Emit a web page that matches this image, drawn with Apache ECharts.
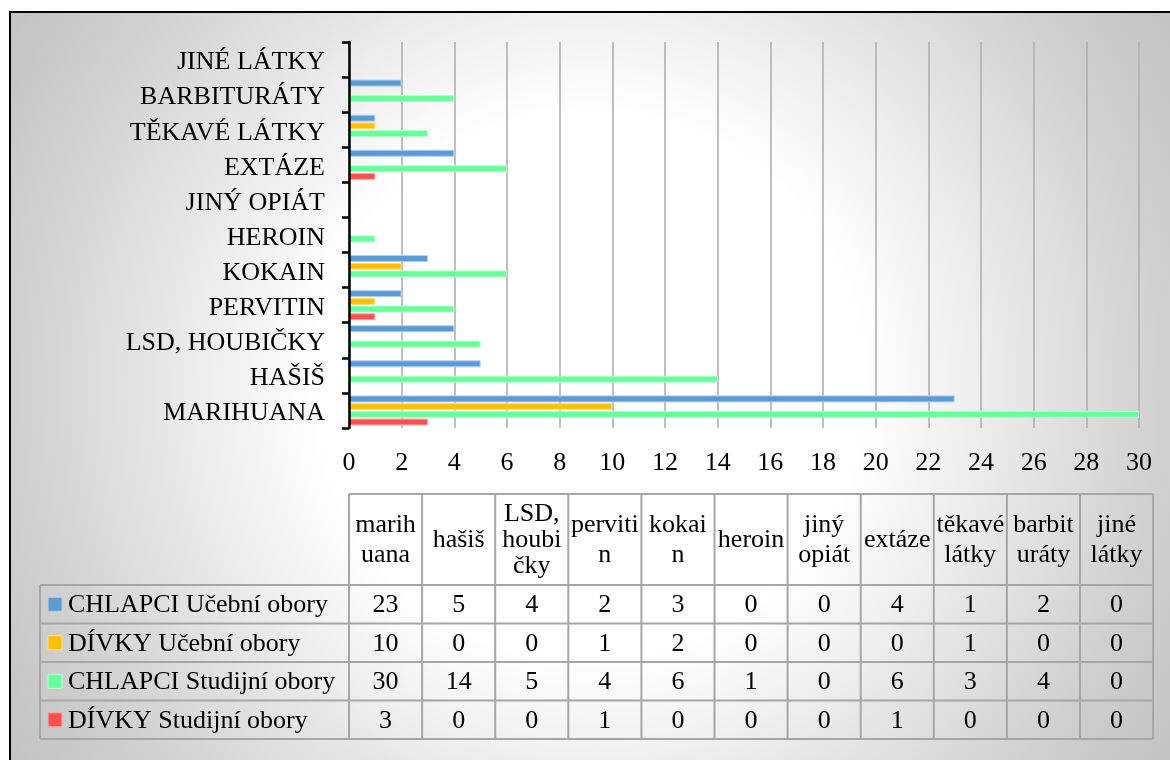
<!DOCTYPE html>
<html>
<head>
<meta charset="utf-8">
<script src="https://cdn.jsdelivr.net/npm/echarts@6/dist/echarts.min.js"></script>
<style>
  html, body { margin: 0; padding: 0; background: #ffffff; }
  #chart { width: 1170px; height: 760px; }
</style>
</head>
<body>
<div id="chart"></div>
<script>
// Substances (bottom to top on the bar axis, left to right in the table)
const categories = ['MARIHUANA', 'HAŠIŠ', 'LSD, HOUBIČKY', 'PERVITIN', 'KOKAIN', 'HEROIN',
  'JINÝ OPIÁT', 'EXTÁZE', 'TĚKAVÉ LÁTKY', 'BARBITURÁTY', 'JINÉ LÁTKY'];
const tableHeaders = ['marih\nuana', 'hašiš', 'LSD,\nhoubi\nčky', 'perviti\nn', 'kokai\nn', 'heroin',
  'jiný\nopiát', 'extáze', 'těkavé\nlátky', 'barbit\nuráty', 'jiné\nlátky'];

// Groups
const seriesNames = ['CHLAPCI Učební obory', 'DÍVKY Učební obory', 'CHLAPCI Studijní obory', 'DÍVKY Studijní obory'];
const seriesColors = ['#5b9bd5', '#ffc000', '#66ff99', '#ff5050'];
const seriesBorders = ['#b3d0ec', '#ffe08a', '#b8ffd0', '#ffaaaa'];

// Counts per substance
const chlapciUcebni   = [23, 5, 4, 2, 3, 0, 0, 4, 1, 2, 0];
const divkyUcebni     = [10, 0, 0, 1, 2, 0, 0, 0, 1, 0, 0];
const chlapciStudijni = [30, 14, 5, 4, 6, 1, 0, 6, 3, 4, 0];
const divkyStudijni   = [3, 0, 0, 1, 0, 0, 0, 1, 0, 0, 0];
const seriesData = [chlapciUcebni, divkyUcebni, chlapciStudijni, divkyStudijni];

// Value axis range
const xMin = 0, xMax = 30, xStep = 2;

const FONT = '"Liberation Serif", "Times New Roman", serif';

// ---- data table geometry ----
const tbl = {
  left: 40, colStart: 349, colW: 73.1,
  headTop: 494, headBottom: 585, rowH: 38.5
};
const lineColor = '#a6a6a6';

const graphics = [];

// chart-area background with a soft radial fill and a black frame
graphics.push({
  type: 'rect', z: -100, silent: true,
  shape: { x: 10, y: 12, width: 1200, height: 800 },
  style: {
    fill: {
      type: 'radial', x: 590, y: 385, r: 700, global: true,
      colorStops: [
        { offset: 0, color: '#ffffff' },
        { offset: 0.39, color: '#ffffff' },
        { offset: 0.53, color: '#f0f0f0' },
        { offset: 0.83, color: '#cfcfcf' },
        { offset: 1, color: '#c2c2c2' }
      ]
    },
    stroke: '#000000', lineWidth: 2
  }
});

const nCols = categories.length;
const tblRight = tbl.colStart + nCols * tbl.colW;
const bodyBottom = tbl.headBottom + seriesNames.length * tbl.rowH;

// horizontal rules
graphics.push({ type: 'line', z: 10, shape: { x1: tbl.colStart, y1: tbl.headTop, x2: tblRight, y2: tbl.headTop },
  style: { stroke: lineColor, lineWidth: 2 } });
for (let r = 0; r <= seriesNames.length; r++) {
  const y = tbl.headBottom + r * tbl.rowH;
  graphics.push({ type: 'line', z: 10, shape: { x1: tbl.left, y1: y, x2: tblRight, y2: y },
    style: { stroke: lineColor, lineWidth: 2 } });
}
// vertical rules
graphics.push({ type: 'line', z: 10, shape: { x1: tbl.left, y1: tbl.headBottom, x2: tbl.left, y2: bodyBottom },
  style: { stroke: lineColor, lineWidth: 2 } });
for (let c = 0; c <= nCols; c++) {
  const x = tbl.colStart + c * tbl.colW;
  graphics.push({ type: 'line', z: 10, shape: { x1: x, y1: tbl.headTop, x2: x, y2: bodyBottom },
    style: { stroke: lineColor, lineWidth: 2 } });
}
// header texts (three-line headers are set a little tighter)
tableHeaders.forEach((h, c) => {
  const lines = h.split('\n').length;
  graphics.push({
    type: 'text', z: 11,
    x: tbl.colStart + (c + 0.5) * tbl.colW, y: (tbl.headTop + tbl.headBottom) / 2 + 1,
    style: { text: h, fill: '#000', font: '26px ' + FONT, lineHeight: lines > 2 ? 26 : 30,
      align: 'center', verticalAlign: 'middle' }
  });
});
// legend keys, series names and values
seriesNames.forEach((name, r) => {
  const cy = tbl.headBottom + (r + 0.5) * tbl.rowH;
  graphics.push({ type: 'rect', z: 11, shape: { x: 48, y: cy - 7, width: 14, height: 14 },
    style: { fill: seriesColors[r], stroke: seriesBorders[r], lineWidth: 1 } });
  graphics.push({ type: 'text', z: 11, x: 68, y: cy + 1,
    style: { text: name, fill: '#000', font: '26px ' + FONT, align: 'left', verticalAlign: 'middle' } });
  seriesData[r].forEach((v, c) => {
    graphics.push({ type: 'text', z: 11, x: tbl.colStart + (c + 0.5) * tbl.colW, y: cy + 1,
      style: { text: String(v), fill: '#000', font: '26px ' + FONT, align: 'center', verticalAlign: 'middle' } });
  });
});

const chart = echarts.init(document.getElementById('chart'), null, { renderer: 'canvas' });

chart.setOption({
  backgroundColor: '#ffffff',
  animation: false,
  textStyle: { fontFamily: FONT },
  grid: { left: 349, right: 31, top: 42, height: 386, containLabel: false },
  xAxis: {
    type: 'value', min: xMin, max: xMax, interval: xStep,
    axisLine: { show: false }, axisTick: { show: false },
    axisLabel: { color: '#000', fontSize: 26, fontFamily: FONT, margin: 22 },
    splitLine: { show: true, lineStyle: { color: '#b0b0b0', width: 1.6 } }
  },
  yAxis: {
    type: 'category', data: categories,
    axisLine: { show: true, lineStyle: { color: '#000', width: 2.5 } },
    axisTick: { show: true, length: 7, lineStyle: { color: '#000', width: 2.5 } },
    axisLabel: {
      color: '#000', fontSize: 26, fontFamily: FONT, margin: 24,
      formatter: (v) => '{c|' + v + '}',
      rich: { c: { color: '#000', fontSize: 26, fontFamily: FONT, padding: [6, 0, 0, 0] } }
    },
    z: 5
  },
  series: seriesNames.map((name, i) => ({
    name: name, type: 'bar', data: seriesData[i],
    barWidth: 7, barGap: '10%',
    itemStyle: { color: seriesColors[i], borderColor: seriesBorders[i], borderWidth: 1 }
  })),
  graphic: { elements: graphics }
});
</script>
</body>
</html>
